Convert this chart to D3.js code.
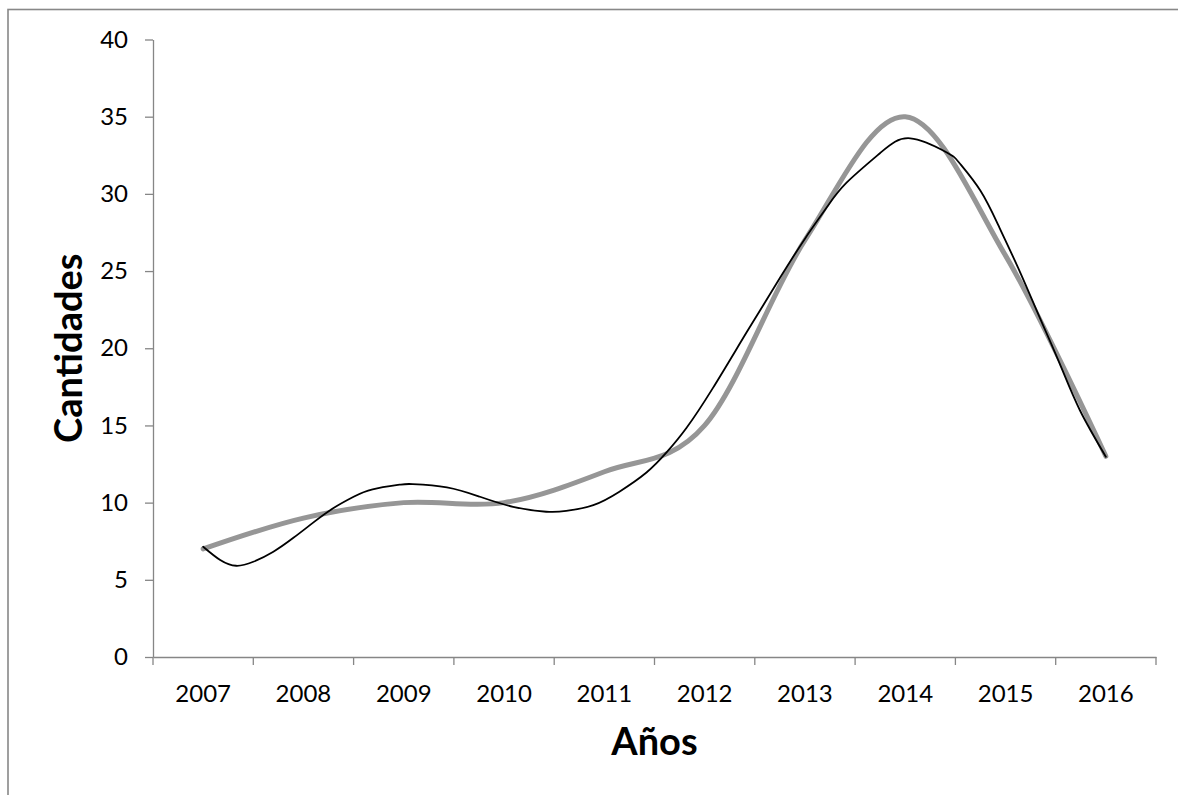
<!DOCTYPE html>
<html><head><meta charset="utf-8">
<script src="https://cdn.jsdelivr.net/npm/d3@7"></script>
<style>
body{margin:0;background:#fff}
svg{display:block}
text{font-family:Lato,"Open Sans","DejaVu Sans",sans-serif;fill:#000}
</style>
</head><body>
<svg id="c" width="1178" height="795"></svg>
<script>
// ---- data ----
const years = ['2007','2008','2009','2010','2011','2012','2013','2014','2015','2016'];
const cantidades = [7, 9, 10, 10, 12, 15, 27, 35, 26, 13];
const yTicks = [0, 5, 10, 15, 20, 25, 30, 35, 40];
// trend line (polynomial): fractional year and value
const trendYears = [2007.00,2007.17,2007.33,2007.50,2007.70,2007.90,2008.10,2008.30,2008.50,2008.69,2008.96,2009.09,2009.43,2009.76,2010.09,2010.42,2010.62,2010.89,2011.15,2011.42,2011.62,2011.82,2012.08,2012.42,2012.75,2013.00,2013.22,2013.41,2013.75,2014.05,2014.41,2014.54,2014.75,2014.94,2015.14,2015.34,2015.54,2015.74,2016.00];
const trendValues = [7.14,6.28,5.91,6.17,6.82,7.72,8.72,9.65,10.38,10.86,11.16,11.2,10.99,10.38,9.73,9.41,9.46,9.84,10.71,11.95,13.25,14.85,17.4,21.05,24.55,27.1,29.15,30.7,32.65,33.6,32.7,32.0,30.2,27.8,25.0,22.0,19.0,16.0,12.97];
const xTitle = 'Años';
const yTitle = 'Cantidades';

// ---- layout ----
const W = 1178, H = 795;
const plot = {left:153, right:1156, top:39.5, bottom:657};
const axisColor = '#868686';

const svg = d3.select('#c');

// outer frame (cropped at right/bottom)
svg.append('rect')
  .attr('x', 8).attr('y', 9.5)
  .attr('width', W + 50).attr('height', H + 50)
  .attr('fill', 'none').attr('stroke', '#888').attr('stroke-width', 1.6);

const x = d3.scaleBand().domain(years).range([plot.left, plot.right]).paddingInner(0).paddingOuter(0);
const xYear = d3.scaleLinear()
  .domain([+years[0] - 0.5, +years[years.length-1] + 0.5])
  .range([plot.left, plot.right]);
const y = d3.scaleLinear().domain([0, 40]).range([plot.bottom, plot.top]);

// Y axis
const gy = svg.append('g').attr('transform', `translate(${plot.left},0)`)
  .call(d3.axisLeft(y).tickValues(yTicks).tickSize(8).tickPadding(17).tickSizeOuter(0));
gy.select('.domain').attr('stroke', axisColor).attr('stroke-width', 1.3);
gy.selectAll('.tick line').attr('stroke', axisColor).attr('stroke-width', 1.3);
gy.selectAll('.tick text').attr('font-size', 24).attr('font-family', 'Lato').attr('fill', '#000');

// X axis (labels at band centres)
const gx = svg.append('g').attr('transform', `translate(0,${plot.bottom})`)
  .call(d3.axisBottom(x).tickSize(0).tickSizeOuter(0));
gx.select('.domain').attr('stroke', axisColor).attr('stroke-width', 1.3);
gx.selectAll('.tick text').attr('font-size', 24).attr('font-family', 'Lato')
  .attr('fill', '#000').attr('dy', 0).attr('y', 44.5);

// X tick marks at category boundaries
const bounds = years.map(d => x(d)).concat([x(years[years.length-1]) + x.bandwidth()]);
gx.selectAll('line.bnd').data(bounds).join('line')
  .attr('class', 'bnd')
  .attr('x1', d => d).attr('x2', d => d)
  .attr('y1', 0).attr('y2', 8)
  .attr('stroke', axisColor).attr('stroke-width', 1.3);

// gray data line (smoothed)
const dataLine = d3.line()
  .x((d, i) => x(years[i]) + x.bandwidth() / 2)
  .y(d => y(d))
  .curve(d3.curveCardinal.tension(0));
svg.append('path').datum(cantidades)
  .attr('d', dataLine)
  .attr('fill', 'none').attr('stroke', '#969696')
  .attr('stroke-width', 5).attr('stroke-linecap', 'round').attr('stroke-linejoin', 'round');

// black trend line
const trend = trendYears.map((t, i) => [t, trendValues[i]]);
const trendLine = d3.line()
  .x(d => xYear(d[0]))
  .y(d => y(d[1]))
  .curve(d3.curveNatural);
svg.append('path').datum(trend)
  .attr('d', trendLine)
  .attr('fill', 'none').attr('stroke', '#000')
  .attr('stroke-width', 1.8).attr('stroke-linecap', 'round');

// axis titles
svg.append('text')
  .attr('x', (plot.left + plot.right) / 2).attr('y', 755)
  .attr('text-anchor', 'middle')
  .attr('font-size', 38).attr('font-weight', 700)
  .text(xTitle);

svg.append('text')
  .attr('transform', `translate(82,${(plot.top + plot.bottom) / 2}) rotate(-90)`)
  .attr('text-anchor', 'middle')
  .attr('font-size', 38).attr('font-weight', 700)
  .text(yTitle);
</script>
</body></html>
